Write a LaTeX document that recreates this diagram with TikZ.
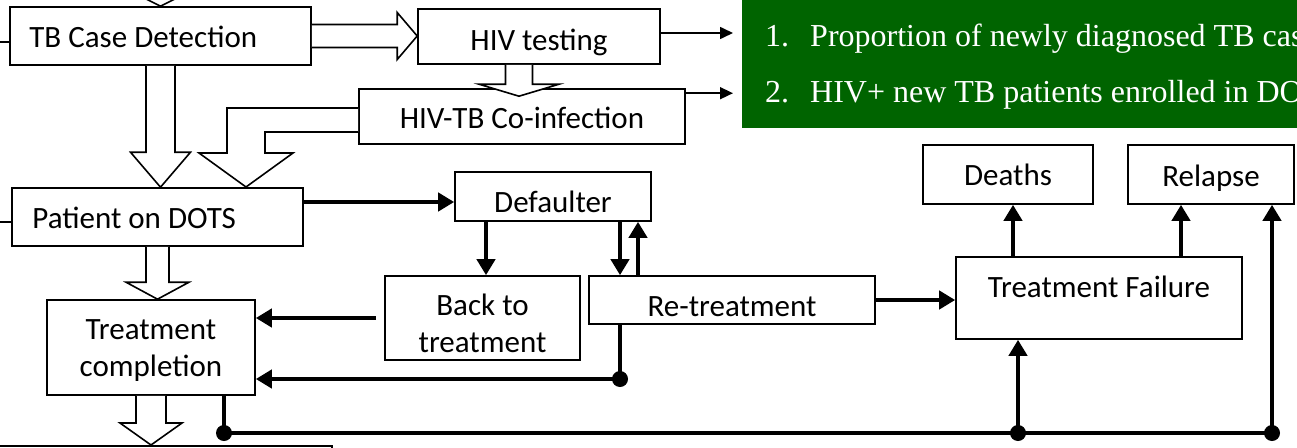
\documentclass[tikz,border=0pt]{standalone}
\usepackage{fontspec}
\setmainfont{Carlito}
\newfontfamily\listfont{Liberation Serif}
\usetikzlibrary{arrows.meta,calc}
\definecolor{kpigreen}{RGB}{0,100,0}

% hollow block arrows: from, to, shaft half width, head half width, head length
\newcommand{\blockdown}[5]{%
  \coordinate (bt) at (#1 |- #2);
  \draw[hollow] ($(#1)+(-#3,0)$) -- ($(bt)+(-#3,-#5)$) -- ($(bt)+(-#4,-#5)$) -- (bt)
    -- ($(bt)+(#4,-#5)$) -- ($(bt)+(#3,-#5)$) -- ($(#1)+(#3,0)$);}
\newcommand{\blockright}[5]{%
  \coordinate (bt) at (#2 |- #1);
  \draw[hollow] ($(#1)+(0,-#3)$) -- ($(bt)+(-#5,-#3)$) -- ($(bt)+(-#5,-#4)$) -- (bt)
    -- ($(bt)+(-#5,#4)$) -- ($(bt)+(-#5,#3)$) -- ($(#1)+(0,#3)$);}

\begin{document}
\begin{tikzpicture}[x=1pt, y=-1pt]

\tikzset{box/.style={draw, line width=1.6pt, fill=white, rectangle, inner sep=0pt, align=center, font=\fontsize{31pt}{37pt}\selectfont}}
% baseline lies #1 below the middle of the box
\tikzset{oneline/.style={text height=2*#1, text depth=0pt}}
\tikzset{boxtext/.style={inner sep=0pt, align=center, font=\fontsize{31pt}{37pt}\selectfont}}
\tikzset{hollow/.style={draw, fill=white, line width=1.6pt, line join=miter}}
\tikzset{flow/.style={line width=4.5pt, -{Triangle[length=16pt, width=18pt]}}}
\tikzset{flowline/.style={line width=4.5pt}}
\tikzset{thinarrow/.style={line width=1.6pt, -{Triangle[length=13pt, width=12pt]}}}
\tikzset{listtext/.style={inner sep=0pt, anchor=base west, text=white, font=\listfont\fontsize{32pt}{38pt}\selectfont}}

\useasboundingbox (0, 0) rectangle (1297, 447);
\clip (0, 0) rectangle (1297, 447);

% indicator panel
\node[fill=kpigreen, anchor=north west, minimum width=600pt, minimum height=138pt, inner sep=0pt] at (742, -10) (kpi) {};
\node[listtext] at (765,  46) (k1) {1.};
\node[listtext] at (810,  46) (k1t) {Proportion of newly diagnosed TB cas};
\node[listtext] at (765, 102) (k2) {2.};
\node[listtext] at (810, 102) (k2t) {HIV+ new TB patients enrolled in DO};

% detection and testing
\node[box, minimum width=301pt, minimum height=58pt] at (160.5,  36) (tbcd) {};
\node[boxtext, oneline=11pt, anchor=west] at ([xshift=20pt]tbcd.west) (tbcdtx) {TB Case Detection};
\node[box, oneline=13.5pt, minimum width=242pt, minimum height=55pt] at (539,  36.5) (hivt) {HIV testing};
\node[box, oneline=11.5pt, minimum width=326pt, minimum height=55pt] at (522, 116.5) (coinf) {HIV-TB Co-infection};

% treatment
\node[box, minimum width=291pt, minimum height=58pt] at (157.5, 217) (pdots) {};
\node[boxtext, oneline=11pt, anchor=west] at ([xshift=21pt]pdots.west) (pdotstx) {Patient on DOTS};
\node[box, minimum width=208pt, minimum height=95pt] at (151, 347.5) (tcomp) {};
\node[boxtext] at (151, 351) (tcomptx) {Treatment\\completion};
\node[box, anchor=north east, minimum width=360pt, minimum height=40pt] at (333, 445) (nxt) {};
\node[box, oneline=15.5pt, minimum width=196pt, minimum height=49pt] at (553, 196.5) (defl) {Defaulter};
\node[box, minimum width=195pt, minimum height=84pt] at (482.5, 318) (back) {};
\node[boxtext] at (482.5, 323) (backtx) {Back to\\treatment};
\node[box, oneline=16pt, minimum width=286pt, minimum height=48pt] at (732, 300) (retr) {Re-treatment};

% outcomes
\node[box, minimum width=286pt, text height=40pt, text depth=42pt] at (1099, 298) (tfail) {Treatment Failure};
\node[box, oneline=10.5pt, minimum width=170pt, minimum height=59pt] at (1008, 174.5) (death) {Deaths};
\node[box, oneline=11.5pt, minimum width=166pt, minimum height=59pt] at (1211, 174.5) (relap) {Relapse};

% incoming lines from the left and above
\coordinate (inA) at (-5, 42);
\coordinate (inB) at (-5, 222);
\draw[line width=1.6pt] (inA) -- (inA -| tbcd.west);
\draw[line width=1.6pt] (inB) -- (inB -| pdots.west);
\coordinate (srcA) at (160.5, -40);
\blockdown{srcA}{tbcd.north}{10}{30}{15}

% hollow arrows
\blockright{tbcd.east}{hivt.west}{11.5}{23.5}{20}
\coordinate (hsrc) at ($(hivt.south)+(-20, 0)$);
\coordinate (hdst) at ($(coinf.north)+(0, 8)$);
\blockdown{hsrc}{hdst}{13.5}{40}{12}
\blockdown{tbcd.south}{pdots.north}{14.5}{30}{35}
\draw[hollow] ([yshift=8.5pt]coinf.west) -- (227, 108) -- (227, 153) -- (199, 153) -- (246, 187)
  -- (293, 153) -- (265, 153) -- (265, 132) -- ([yshift=-15.5pt]coinf.west);
\blockdown{pdots.south}{tcomp.north}{11.5}{31.5}{17}
\blockdown{tcomp.south}{nxt.north}{15}{31}{22}

% indicators
\coordinate (a1) at ([yshift=3.5pt]hivt.east);
\coordinate (a2) at ([yshift=-5pt]coinf.north east);
\draw[thinarrow, shorten >=9pt] (a1) -- (a1 -| kpi.west);
\draw[thinarrow, shorten >=9pt] (a2) -- (a2 -| kpi.west);

% default and re-treatment flows
\coordinate (f1) at (0, 202);
\coordinate (c1) at (486, 0);
\coordinate (c2) at (620, 0);
\coordinate (c3) at (638, 0);
\draw[flow] (f1 -| pdots.east) -- (f1 -| defl.west);
\draw[flow] (c1 |- defl.south) -- (c1 |- back.north);
\draw[flow] (c2 |- defl.south) -- (c2 |- retr.north);
\draw[flow] (c3 |- retr.north) -- (c3 |- defl.south);
\draw[flow, shorten <=8pt] (back.west) -- (back.west -| tcomp.east);
\coordinate (j1) at (620, 379);
\draw[flowline] (c2 |- retr.south) -- (j1);
\draw[flow] (j1) -- (j1 -| tcomp.east);
\fill (j1) circle (8pt);
\draw[flow] (retr.east) -- (retr.east -| tfail.west);

% failure outcomes
\coordinate (c4) at (1013, 0);
\coordinate (c5) at (1181, 0);
\draw[flow] (c4 |- tfail.north) -- (c4 |- death.south);
\draw[flow] (c5 |- tfail.north) -- (c5 |- relap.south);

% bottom bus
\coordinate (j2) at (224, 433);
\coordinate (j3) at (1018, 433);
\coordinate (j4) at (1272, 433);
\draw[flowline] (j2 |- tcomp.south) -- (j2) -- (j4);
\draw[flow] (j3) -- (j3 |- tfail.south);
\draw[flow] (j4) -- (j4 |- relap.south);
\foreach \j in {j2, j3, j4} \fill (\j) circle (8pt);

\end{tikzpicture}
\end{document}
